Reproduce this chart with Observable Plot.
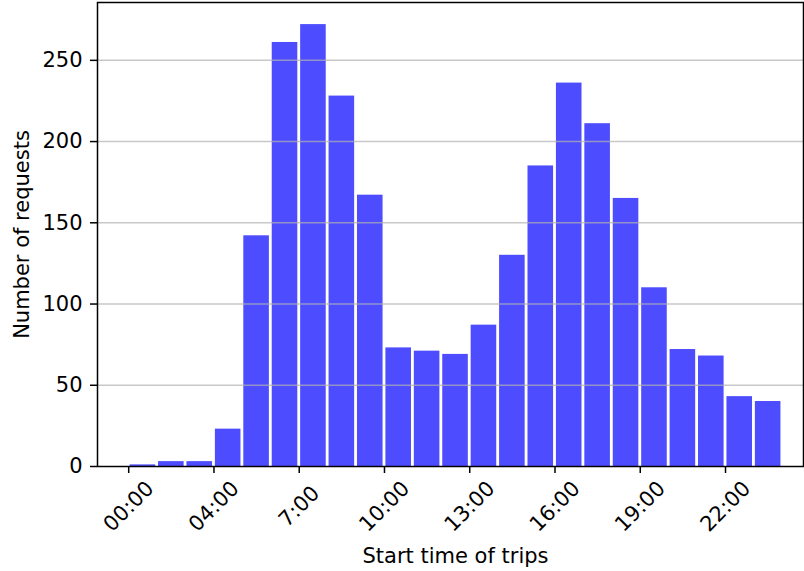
<!DOCTYPE html>
<html>
<head>
<meta charset="utf-8">
<script src="https://cdn.jsdelivr.net/npm/d3@7"></script>
<script src="https://cdn.jsdelivr.net/npm/@observablehq/plot@0.6"></script>
<style>
  html, body { margin: 0; padding: 0; background: #fff; }
  svg { display: block; }
</style>
</head>
<body>
<div id="chart"></div>
<script>
// Hour bins (start of each bin) and number of requests per bin
const hours = [0,1,2,3,4,5,6,7,8,9,10,11,12,13,14,15,16,17,18,19,20,21,22];
const counts = [1,3,3,23,142,261,272,228,167,73,71,69,87,130,185,236,211,165,110,72,68,43,40];

// Tick positions and their labels as shown on the x axis
const xTickPositions = [0,3,6,9,12,15,18,21];
const xTickLabels = ["00:00","04:00","7:00","10:00","13:00","16:00","19:00","22:00"];
const yTicks = [0,50,100,150,200,250];
const gridValues = [50,100,150,200,250];

const bins = hours.map((h, i) => ({start: h, end: h + 1, count: counts[i]}));
const xTicks = xTickPositions.map((p, i) => ({pos: p, label: xTickLabels[i]}));

const font = "DejaVu Sans, Liberation Sans, sans-serif";
const fs = 21;

const chart = Plot.plot({
  width: 804,
  height: 571,
  marginLeft: 97,
  marginRight: 1,
  marginTop: 2,
  marginBottom: 105,
  style: {fontFamily: font, fontSize: fs + "px", color: "black", background: "white", overflow: "visible"},
  x: {type: "linear", domain: [-1.098, 23.744]},
  y: {domain: [0, 285.6]},
  marks: [
    Plot.rectY(bins, {x1: "start", x2: "end", y: "count", fill: "#4d4dff", insetLeft: 1.42, insetRight: 1.42}),
    Plot.ruleY(gridValues, {stroke: "#b0b0b0", strokeOpacity: 0.7, strokeWidth: 1.5}),
    Plot.axisY({ticks: yTicks, tickSize: 7, tickPadding: 8, strokeWidth: 1.5, fontSize: fs, label: null, tickFormat: d => String(d)}),
    Plot.axisX({ticks: xTickPositions, tickSize: 7, strokeWidth: 1.5, label: null, tickFormat: () => ""}),
    Plot.text(xTicks, {x: "pos", text: "label", frameAnchor: "bottom", dy: 40, rotate: -45, textAnchor: "middle", lineAnchor: "middle", fontSize: fs, fill: "black"}),
    Plot.text(["Start time of trips"], {frameAnchor: "bottom", dx: 5, dy: 90, textAnchor: "middle", lineAnchor: "middle", fontSize: fs, fill: "black"}),
    Plot.text(["Number of requests"], {frameAnchor: "left", dx: -75, rotate: -90, textAnchor: "middle", lineAnchor: "middle", fontSize: fs, fill: "black"}),
    Plot.frame({stroke: "black", strokeWidth: 1.5})
  ]
});
document.getElementById("chart").appendChild(chart);
</script>
</body>
</html>
